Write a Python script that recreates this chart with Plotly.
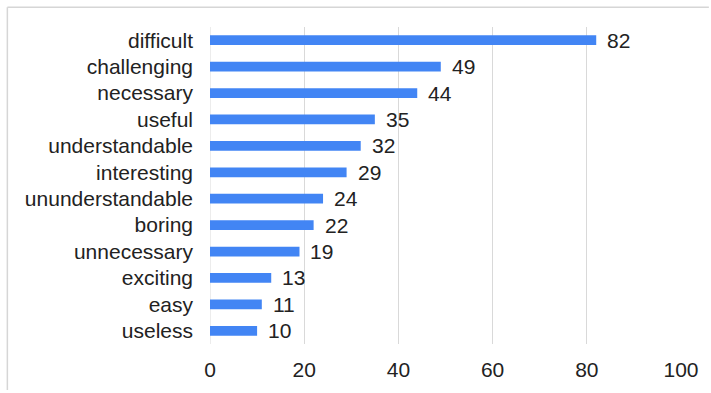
import plotly.graph_objects as go

categories = ["difficult", "challenging", "necessary", "useful", "understandable",
              "interesting", "ununderstandable", "boring", "unnecessary", "exciting",
              "easy", "useless"]
values = [82, 49, 44, 35, 32, 29, 24, 22, 19, 13, 11, 10]
x_ticks = [0, 20, 40, 60, 80, 100]

W, H = 711, 393
L, R, T, B = 210, 28, 26.5, 46.5
pw, ph = W - L - R, H - T - B
FS = 21

fig = go.Figure(go.Bar(
    y=categories, x=values, orientation="h",
    marker=dict(color="#4285F4", line=dict(width=0)),
    width=0.37,
))
for c, v in zip(categories, values):
    fig.add_annotation(x=v, y=c, xref="x", yref="y", text=str(v), showarrow=False,
                       xanchor="left", yanchor="middle", xshift=9,
                       font=dict(size=FS, color="#222222"))

font = "Liberation Sans, Arial, sans-serif"
fig.update_layout(
    width=W, height=H, margin=dict(l=L, r=R, t=T, b=B),
    paper_bgcolor="white", plot_bgcolor="white",
    font=dict(family=font, size=FS, color="#222222"),
    showlegend=False,
    xaxis=dict(range=[0, 100], tickvals=x_ticks, showgrid=True, gridcolor="#d9d9d9",
               gridwidth=1, zeroline=False, showline=False, ticks="",
               ticklabelstandoff=11, tickfont=dict(size=FS)),
    yaxis=dict(categoryorder="array", categoryarray=categories[::-1],
               autorange=False, range=[-0.5, len(categories) - 0.5],
               showgrid=False, zeroline=False, showline=False, ticks="",
               ticklabelstandoff=16, tickfont=dict(size=FS)),
    bargap=0.63,
)
# light frame on top and left edge
x_left = (6.5 - L) / pw
y_top = 1 + (T - 6.5) / ph
fig.add_shape(type="line", xref="paper", yref="paper", x0=x_left, x1=(W - L) / pw,
              y0=y_top, y1=y_top, line=dict(color="#d6d6d6", width=1.5))
fig.add_shape(type="line", xref="paper", yref="paper", x0=x_left, x1=x_left,
              y0=y_top, y1=-B / ph, line=dict(color="#d6d6d6", width=1.5))
fig.add_shape(type="line", xref="x", yref="paper", x0=0, x1=0, y0=0, y1=1,
              line=dict(color="#d9d9d9", width=1), layer="below")

fig.write_html("out.html")
